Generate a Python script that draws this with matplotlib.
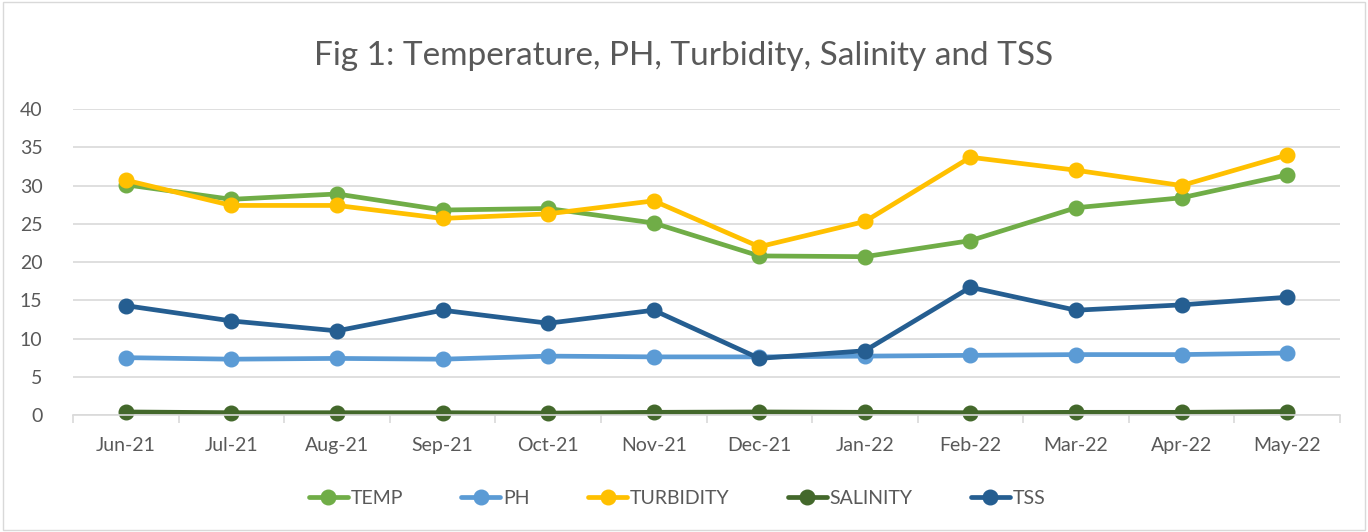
import matplotlib
matplotlib.use("Agg")
import matplotlib.pyplot as plt
from matplotlib.patches import Rectangle

months = ["Jun-21", "Jul-21", "Aug-21", "Sep-21", "Oct-21", "Nov-21",
          "Dec-21", "Jan-22", "Feb-22", "Mar-22", "Apr-22", "May-22"]
temp = [30.1, 28.2, 28.9, 26.8, 27.0, 25.1, 20.8, 20.7, 22.8, 27.1, 28.4, 31.4]
ph = [7.5, 7.3, 7.4, 7.3, 7.7, 7.6, 7.6, 7.7, 7.8, 7.9, 7.9, 8.1]
turbidity = [30.7, 27.4, 27.4, 25.7, 26.3, 28.0, 22.0, 25.3, 33.7, 32.0, 30.0, 34.0]
salinity = [0.4, 0.3, 0.3, 0.3, 0.25, 0.35, 0.4, 0.35, 0.3, 0.35, 0.35, 0.45]
tss = [14.3, 12.3, 11.0, 13.7, 12.0, 13.7, 7.4, 8.4, 16.7, 13.7, 14.4, 15.4]

series = [("TEMP", temp, "#70AD47"),
          ("PH", ph, "#5B9BD5"),
          ("TURBIDITY", turbidity, "#FFC000"),
          ("SALINITY", salinity, "#43682B"),
          ("TSS", tss, "#255E91")]

plt.rcParams['font.family'] = ['Lato', 'DejaVu Sans']
fig = plt.figure(figsize=(13.68, 5.32), dpi=100)
fig.patches.append(Rectangle((0.002, 0.003), 0.996, 0.994, transform=fig.transFigure,
                             fill=False, edgecolor="#D9D9D9", linewidth=1))
ax = fig.add_axes([0.0534, 0.2199, 0.9261, 0.5751])

x = list(range(len(months)))
for name, vals, col in series:
    ax.plot(x, vals, color=col, linewidth=3.4, marker="o", markersize=10.5,
            label=name, solid_capstyle="round", clip_on=False)

ax.set_xlim(-0.5, len(months) - 0.5)
ax.set_ylim(0, 40)
ax.set_yticks(range(0, 41, 5))
ax.set_xticks(x)
ax.set_xticklabels(months)
ax.set_xticks([i - 0.5 for i in range(len(months) + 1)], minor=True)
ax.grid(axis="y", color="#D9D9D9", linewidth=1.2)
ax.set_axisbelow(True)
for s in ["top", "right", "left"]:
    ax.spines[s].set_visible(False)
ax.spines["bottom"].set_color("#D9D9D9")
ax.spines["bottom"].set_linewidth(1.2)
ax.tick_params(axis="x", which="major", length=0, pad=16, labelsize=14, labelcolor="#595959")
ax.tick_params(axis="x", which="minor", length=6, color="#D9D9D9", width=1.2)
ax.tick_params(axis="y", length=0, pad=22, labelsize=14, labelcolor="#595959")

fig.text(0.5, 0.895, "Fig 1: Temperature, PH, Turbidity, Salinity and TSS",
         ha="center", va="center", fontsize=24, color="#595959")

leg = fig.legend(loc="center", bbox_to_anchor=(0.495, 0.063), ncol=5, frameon=False,
                 fontsize=14, labelcolor="#595959", handlelength=2.0,
                 handletextpad=0.15, columnspacing=3.0)
fig.savefig("out.png", dpi=100)
